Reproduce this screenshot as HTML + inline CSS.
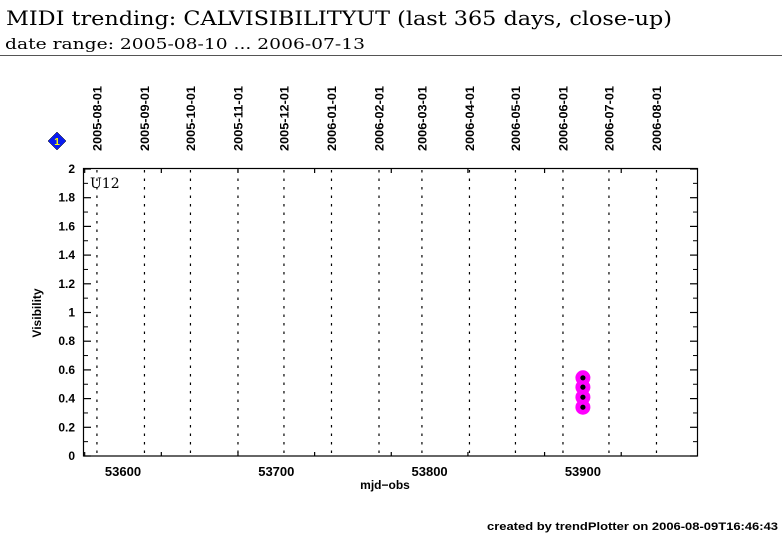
<!DOCTYPE html>
<html><head><meta charset="utf-8"><style>
body{margin:0;background:#fff;}
svg{display:block;font-family:"Liberation Sans",sans-serif;}
</style></head><body>
<svg id="chart" width="782" height="542">
<text x="6" y="25" font-family="DejaVu Serif, serif" font-size="20" textLength="666" lengthAdjust="spacingAndGlyphs">MIDI trending: CALVISIBILITYUT (last 365 days, close-up)</text>
<text x="5" y="49" font-family="DejaVu Serif, serif" font-size="15" textLength="360" lengthAdjust="spacingAndGlyphs">date range: 2005-08-10 ... 2006-07-13</text>
<line x1="0" y1="55.5" x2="782" y2="55.5" stroke="#555" stroke-width="1"/>
<g id="diamond">
<polygon points="57,132 66,141 57,150 48,141" fill="#0a1cf0" stroke="#000" stroke-width="0.5"/>
<text x="57" y="145" font-size="10" font-weight="bold" fill="#ff0" text-anchor="middle">1</text>
</g>
<g id="grid"></g>
<rect x="83.5" y="168.5" width="614" height="287.5" fill="none" stroke="#000" stroke-width="1.2"/>
<text x="90" y="188" font-family="DejaVu Serif, serif" font-size="14">U12</text>
<g id="axes"></g>
<g id="marks"></g>
<text x="385" y="489" font-size="12" font-weight="bold" text-anchor="middle">mjd−obs</text>
<text transform="translate(41,313) rotate(-90)" font-size="12" font-weight="bold" text-anchor="middle">Visibility</text>
<text x="487" y="530" font-size="11" font-weight="bold" textLength="291" lengthAdjust="spacingAndGlyphs">created by trendPlotter on 2006-08-09T16:46:43</text>
</svg>
<script>
const dateLabels=["2005-08-01","2005-09-01","2005-10-01","2005-11-01","2005-12-01","2006-01-01","2006-02-01","2006-03-01","2006-04-01","2006-05-01","2006-06-01","2006-07-01","2006-08-01"];
const dateMjd=[53583,53614,53644,53675,53705,53736,53767,53795,53826,53856,53887,53917,53948];
const xTicks=[53600,53700,53800,53900];
const yTicks=[0,0.2,0.4,0.6,0.8,1,1.2,1.4,1.6,1.8,2];
const obsMjd=[53900,53900,53900,53900];
const obsVis=[0.545,0.48,0.41,0.34];
const NS="http://www.w3.org/2000/svg";
const X=v=>123+(v-53600)*1.533;
const Y=v=>456-v*143.5;
function mk(p,t,a){const e=document.createElementNS(NS,t);for(const k in a)e.setAttribute(k,a[k]);p.appendChild(e);return e;}
const grid=document.getElementById('grid'),axes=document.getElementById('axes'),marks=document.getElementById('marks');
dateMjd.forEach((m,i)=>{
 const x=X(m);
 const l=mk(grid,'line',{x1:x,y1:170,x2:x,y2:455,stroke:'#000','stroke-width':1.2,'stroke-dasharray':'2.5,6'});
 
 
 const t=mk(grid,'text',{transform:`translate(${x+4.5},151) rotate(-90)`,'font-size':12,'font-weight':'bold',textLength:65,lengthAdjust:'spacingAndGlyphs'});
 t.textContent=dateLabels[i];
 
 
});
for(let v=53575;v<=53975;v+=50){
 if(X(v)<84||X(v)>697)continue;
 const maj=v%100===0;
 const l=mk(axes,'line',{x1:X(v),y1:456,x2:X(v),y2:456-(maj?8:4),stroke:'#000','stroke-width':1.2});
 
 
 mk(axes,'line',{x1:X(v),y1:169,x2:X(v),y2:169+(maj?8:4),stroke:'#000','stroke-width':1.2});
}
xTicks.forEach(v=>{
 const t=mk(axes,'text',{x:X(v),y:476,'font-size':13,'font-weight':'bold','text-anchor':'middle'});
 t.textContent=v;
 
 
});
yTicks.forEach(v=>{
 const y=Y(v);
 const l=mk(axes,'line',{x1:84,y1:y,x2:91,y2:y,stroke:'#000','stroke-width':1.2});
 
 
 mk(axes,'line',{x1:697,y1:y,x2:690,y2:y,stroke:'#000','stroke-width':1.2});
 if(v<2){mk(axes,'line',{x1:84,y1:Y(v+0.1),x2:88,y2:Y(v+0.1),stroke:'#000','stroke-width':1});mk(axes,'line',{x1:697,y1:Y(v+0.1),x2:693,y2:Y(v+0.1),stroke:'#000','stroke-width':1});}
 const t=mk(axes,'text',{x:75,y:y+4,'font-size':12,'font-weight':'bold','text-anchor':'end'});
 t.textContent=String(v);
 
 
});
obsMjd.forEach((m,i)=>{
 const c=mk(marks,'circle',{cx:X(m),cy:Y(obsVis[i]),r:7.5,fill:'#ff00ff'});
 
 
});
obsMjd.forEach((m,i)=>{
 const c=mk(marks,'circle',{cx:X(m),cy:Y(obsVis[i]),r:2.6,fill:'#000'});
 
 
});
</script>
</body></html>
